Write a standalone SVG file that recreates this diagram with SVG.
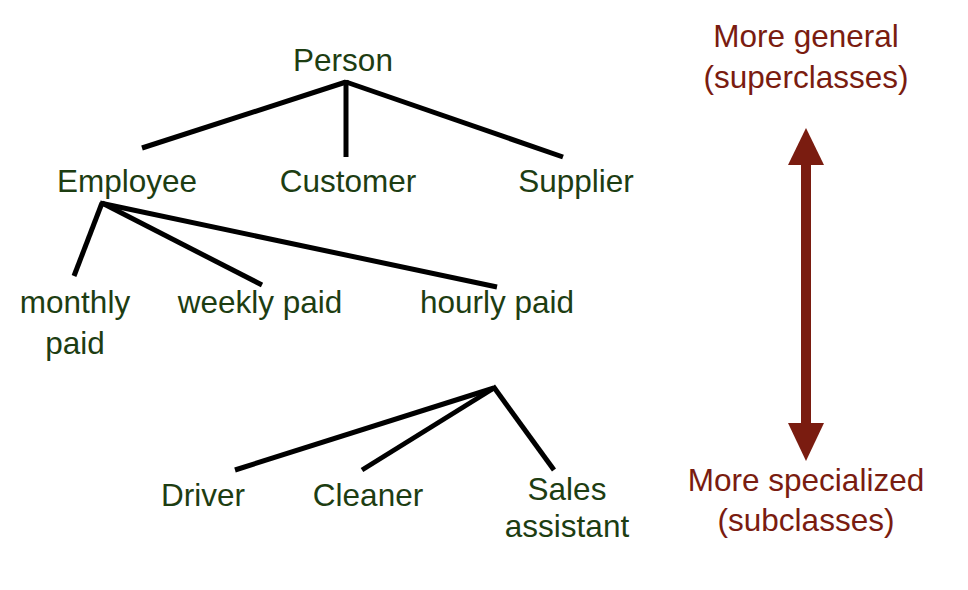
<svg xmlns="http://www.w3.org/2000/svg" width="968" height="590" viewBox="0 0 968 590">
<style>
.n{font-family:"Liberation Sans",Arial,sans-serif;font-size:31.5px;fill:#1d3d12;text-anchor:middle}
.r{font-family:"Liberation Sans",Arial,sans-serif;font-size:31.5px;fill:#7a1c10;text-anchor:middle}
.c line{stroke:#000;stroke-width:5;stroke-linecap:butt}
</style>
<rect width="968" height="590" fill="#fff"/>
<g id="connectors" class="c">
<line x1="346" y1="82" x2="142" y2="148"/>
<line x1="346" y1="80" x2="346" y2="157"/>
<line x1="346" y1="82" x2="563" y2="157"/>
<line x1="102" y1="203" x2="74" y2="276"/>
<line x1="102" y1="203" x2="262" y2="285"/>
<line x1="100" y1="203" x2="497" y2="287"/>
<line x1="494" y1="388" x2="235" y2="470"/>
<line x1="494" y1="388" x2="362" y2="470"/>
<line x1="493" y1="386" x2="554" y2="470"/>
</g>
<g id="person"><text class="n" x="343" y="71">Person</text></g>
<g id="employee"><text class="n" x="127" y="192">Employee</text></g>
<g id="customer"><text class="n" x="348" y="192">Customer</text></g>
<g id="supplier"><text class="n" x="576" y="192">Supplier</text></g>
<g id="monthly"><text class="n" x="75" y="313">monthly</text><text class="n" x="75" y="354">paid</text></g>
<g id="weekly"><text class="n" x="260" y="313">weekly paid</text></g>
<g id="hourly"><text class="n" x="497" y="313">hourly paid</text></g>
<g id="driver"><text class="n" x="203" y="506">Driver</text></g>
<g id="cleaner"><text class="n" x="368" y="506">Cleaner</text></g>
<g id="sales"><text class="n" x="567" y="500">Sales</text><text class="n" x="567" y="537">assistant</text></g>
<g id="general"><text class="r" x="806" y="47">More general</text><text class="r" x="806" y="88">(superclasses)</text></g>
<g id="arrow">
<rect x="801" y="163" width="10" height="262" fill="#7a1c10"/>
<polygon points="806,128 824,165 788,165" fill="#7a1c10"/>
<polygon points="806,461 824,423 788,423" fill="#7a1c10"/>
</g>
<g id="specialized"><text class="r" x="806" y="491">More specialized</text><text class="r" x="806" y="531">(subclasses)</text></g>
</svg>
